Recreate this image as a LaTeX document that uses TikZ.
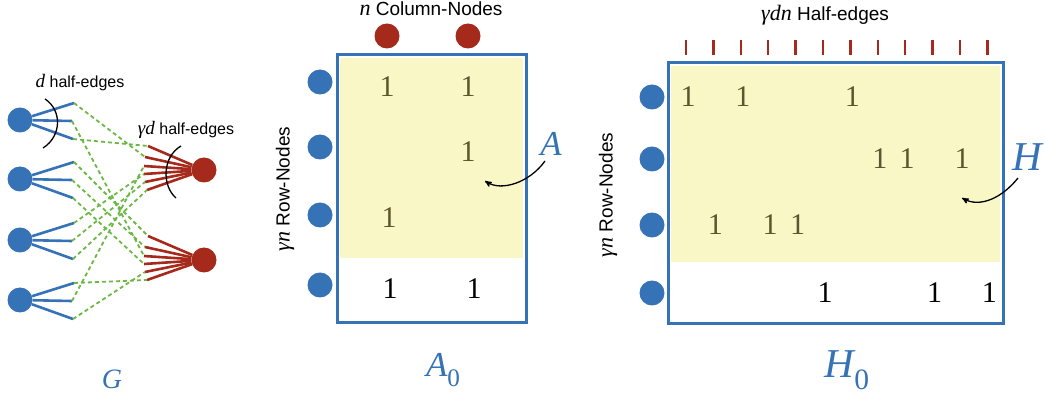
\documentclass[tikz,border=0pt]{standalone}
\usepackage{fontspec}
\setmainfont{Liberation Serif}
\setsansfont{Liberation Sans}
\usetikzlibrary{positioning,arrows,calc}

\definecolor{rowblue}{RGB}{53,114,182}
\definecolor{colred}{RGB}{165,42,28}
\definecolor{matchgreen}{RGB}{108,184,70}
\definecolor{lightyellow}{RGB}{250,247,199}
\definecolor{oneolive}{RGB}{92,86,46}

\newcommand{\sub}[2]{\textit{#1}\raisebox{-0.3em}{\upshape\fontsize{0.72em}{0.72em}\selectfont #2}}
\newcommand{\ivar}[2]{{\rmfamily\itshape\fontsize{#1}{#1}\selectfont #2}}

\begin{document}
\begin{tikzpicture}[
x=1pt,y=-1pt,
rownode/.style={circle,fill=rowblue,minimum size=25pt,inner sep=0pt},
colnode/.style={circle,fill=colred,minimum size=25pt,inner sep=0pt},
halfblue/.style={rowblue,line width=2.6pt},
halfred/.style={colred,line width=2.6pt},
matching/.style={matchgreen,line width=1.8pt,dash pattern=on 4pt off 3pt},
matbox/.style={rowblue,line width=3pt},
sflabel/.style={font=\sffamily\fontsize{16}{18}\selectfont},
toplabel/.style={font=\sffamily\fontsize{19}{21}\selectfont},
oneentry/.style={text=oneolive,font=\fontsize{30}{30}\selectfont},
onebottom/.style={text=black,font=\fontsize{30}{30}\selectfont},
namelabel/.style={text=rowblue,font=\itshape\fontsize{#1}{#1}\selectfont},
pointer/.style={-stealth',line width=1.3pt},
]
	\useasboundingbox (0,0) rectangle (1045,398);

	% graph G
	\foreach \i/\y in {1/120,2/179,3/240,4/300}{
		\node[rownode] (b\i) at (20,\y) {};
		\coordinate (b\i a) at (74,\y-17);
		\coordinate (b\i b) at (72,\y+1);
		\coordinate (b\i c) at (73,\y+19);
		\draw[halfblue] (b\i) -- (b\i a);
		\draw[halfblue] (b\i) -- (b\i b);
		\draw[halfblue] (b\i) -- (b\i c);
	}
	\foreach \j/\y in {1/170,2/260}{
		\node[colnode] (r\j) at (204,\y) {};
		\foreach \k/\dx/\dy in {1/148/-24,2/145/-13,3/144/-4,4/144/4,5/145/12,6/147/20}{
			\coordinate (r\j e\k) at (\dx,\y+\dy);
			\draw[halfred] (r\j) -- (r\j e\k);
		}
	}
	\draw[matching] (b1a) -- (r1e2);
	\draw[matching] (b1b) -- (r2e3);
	\draw[matching] (b1c) -- (r1e1);
	\draw[matching] (b2a) -- (r2e1);
	\draw[matching] (b2b) -- (r2e2);
	\draw[matching] (b2c) -- (r2e4);
	\draw[matching] (b3a) -- (r1e4);
	\draw[matching] (b3b) -- (r1e5);
	\draw[matching] (b3c) -- (r1e6);
	\draw[matching] (b4a) -- (r2e6);
	\draw[matching] (b4b) -- (r1e3);
	\draw[matching] (b4c) -- (r2e5);
	\draw[line width=1.3pt] (45,99) .. controls (62,110) and (62,136) .. (43,148);
	\draw[line width=1.3pt] (181,146) .. controls (162,157) and (162,186) .. (176,198);
	\node[sflabel] (dlabel) at (80,83) {\ivar{19}{d} half-edges};
	\node[sflabel] (gdlabel) at (186,130) {\ivar{19}{γd} half-edges};
	\node[namelabel=28] (glabel) at (112,379) {G};

	% matrix A_0
	\fill[lightyellow] (340,58) rectangle (523,258);
	\draw[matbox] (337,55) rectangle (526,323);
	\node[colnode] (c1) at (387,36) {};
	\node[colnode] (c2) at (468,36) {};
	\foreach \i/\y in {1/82,2/147,3/215,4/285}
		\node[rownode] (a\i) at (320,\y) {};
	\node[oneentry,yshift=-5pt] (a11) at (c1 |- a1) {1};
	\node[oneentry,yshift=-5pt] (a12) at (c2 |- a1) {1};
	\node[oneentry,yshift=-5pt] (a22) at (c2 |- a2) {1};
	\node[oneentry,yshift=-3pt,xshift=2pt] (a31) at (c1 |- a3) {1};
	\node[onebottom,yshift=-4pt,xshift=3pt] (a41) at (c1 |- a4) {1};
	\node[onebottom,yshift=-4pt,xshift=6pt] (a42) at (c2 |- a4) {1};
	\node[toplabel] (collabel) at (431,9) {\ivar{22}{n} Column-Nodes};
	\node[toplabel,rotate=90] (rowlabela) at (285,189) {\ivar{22}{γn} Row-Nodes};
	\node[namelabel=35] (alabel) at (551,144) {A};
	\coordinate (astart) at (545,161);
	\coordinate (aend) at (485,181);
	\draw[pointer] (astart) .. controls (530,182) and (502,192) .. (aend);
	\node[namelabel=35] (a0label) at (443,370) {\sub{A}{0}};

	% matrix H_0
	\fill[lightyellow] (671,66) rectangle (1000,262);
	\draw[matbox] (668,63) rectangle (1003,324);
	\foreach \k in {1,...,12}{
		\coordinate (h\k) at ({686+(\k-1)*27.4},55);
		\coordinate (ht\k) at ({686+(\k-1)*27.4},40);
		\draw[colred,line width=2.4pt] (ht\k) -- (h\k);
	}
	\foreach \i/\y in {1/97,2/159,3/225,4/293}
		\node[rownode] (hr\i) at (652,\y) {};
	\foreach \k/\r in {1/1,3/1,7/1,8/2,9/2,11/2,2/3,4/3,5/3}
		\node[oneentry,xshift=2pt] (one\k) at (h\k |- hr\r) {1};
	\foreach \k in {6,10,12}
		\node[onebottom,xshift=2pt] (one\k) at (h\k |- hr4) {1};
	\node[toplabel] (hlabeltop) at (825,15) {\ivar{22}{γdn} Half-edges};
	\node[toplabel,rotate=90] (rowlabelh) at (608,195) {\ivar{22}{γn} Row-Nodes};
	\node[namelabel=41] (hlabel) at (1027,157) {H};
	\coordinate (hstart) at (1018,178);
	\coordinate (hend) at (962,198);
	\draw[pointer] (hstart) .. controls (1002,198) and (980,208) .. (hend);
	\node[namelabel=41] (h0label) at (847,370) {\sub{H}{0}};
\end{tikzpicture}
\end{document}
